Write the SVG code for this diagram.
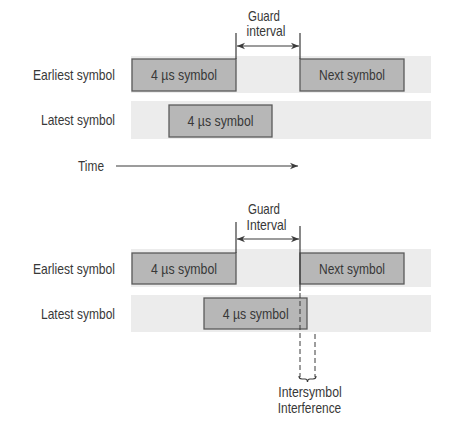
<svg xmlns="http://www.w3.org/2000/svg" width="474" height="421" viewBox="0 0 474 421">
<style>
  text { font-family: "Liberation Sans", Arial, sans-serif; font-size: 14.5px; fill: #383838; }
  .lbl { text-anchor: end; }
  .mid { text-anchor: middle; }
  .band { fill: #ececec; }
  .box { fill: #b7b7b7; stroke: #5a5a5a; stroke-width: 1.3; }
  .ln { stroke: #3a3a3a; stroke-width: 1.2; fill: none; }
  .dash { stroke: #3a3a3a; stroke-width: 1; fill: none; stroke-dasharray: 5 3; }
</style>
<defs>
  <marker id="ah" viewBox="0 0 10 10" refX="10" refY="5" markerWidth="8" markerHeight="8" markerUnits="userSpaceOnUse" orient="auto-start-reverse">
    <path d="M0,1 L10,5 L0,9 L3,5 Z" fill="#3a3a3a"/>
  </marker>
</defs>
<rect width="474" height="421" fill="#ffffff"/>

<!-- Top panel -->
<g id="top-bands">
  <rect class="band" x="131" y="56" width="300" height="37"/>
  <rect class="band" x="131" y="101" width="300" height="38"/>
</g>
<g id="top-earliest-label"><text class="lbl" x="115" y="80" textLength="82" lengthAdjust="spacingAndGlyphs">Earliest symbol</text></g>
<g id="top-latest-label"><text class="lbl" x="115" y="125" textLength="74" lengthAdjust="spacingAndGlyphs">Latest symbol</text></g>
<g id="top-sym1"><rect class="box" x="132" y="59" width="104" height="32"/><text class="mid" x="184" y="80" textLength="66" lengthAdjust="spacingAndGlyphs">4 µs symbol</text></g>
<g id="top-next"><rect class="box" x="300" y="59" width="104" height="32"/><text class="mid" x="352" y="80" textLength="66" lengthAdjust="spacingAndGlyphs">Next symbol</text></g>
<g id="top-sym2"><rect class="box" x="169" y="105" width="103" height="32"/><text class="mid" x="220.5" y="126" textLength="66" lengthAdjust="spacingAndGlyphs">4 µs symbol</text></g>
<g id="top-guard-label"><text class="mid" x="264" y="21" textLength="32" lengthAdjust="spacingAndGlyphs">Guard</text><text class="mid" x="266" y="36" textLength="39" lengthAdjust="spacingAndGlyphs">interval</text></g>
<g id="top-time-label"><text x="78" y="171" textLength="26" lengthAdjust="spacingAndGlyphs">Time</text></g>

<!-- Bottom panel -->
<g id="bot-bands">
  <rect class="band" x="131" y="249" width="300" height="38"/>
  <rect class="band" x="131" y="295" width="300" height="37"/>
</g>
<g id="bot-earliest-label"><text class="lbl" x="115" y="274" textLength="82" lengthAdjust="spacingAndGlyphs">Earliest symbol</text></g>
<g id="bot-latest-label"><text class="lbl" x="115" y="319" textLength="74" lengthAdjust="spacingAndGlyphs">Latest symbol</text></g>
<g id="bot-sym1"><rect class="box" x="132" y="253" width="104" height="31"/><text class="mid" x="184" y="274" textLength="66" lengthAdjust="spacingAndGlyphs">4 µs symbol</text></g>
<g id="bot-next"><rect class="box" x="300" y="253" width="104" height="31"/><text class="mid" x="352" y="274" textLength="66" lengthAdjust="spacingAndGlyphs">Next symbol</text></g>
<g id="bot-sym2"><rect class="box" x="204" y="298" width="103" height="31"/><text class="mid" x="255.7" y="319" textLength="66" lengthAdjust="spacingAndGlyphs">4 µs symbol</text></g>
<g id="bot-guard-label"><text class="mid" x="264" y="214" textLength="32" lengthAdjust="spacingAndGlyphs">Guard</text><text class="mid" x="266.5" y="229.5" textLength="40" lengthAdjust="spacingAndGlyphs">Interval</text></g>
<g id="bot-isi-label"><text class="mid" x="310" y="397" textLength="63.5" lengthAdjust="spacingAndGlyphs">Intersymbol</text><text class="mid" x="309.5" y="413" textLength="63.5" lengthAdjust="spacingAndGlyphs">Interference</text></g>

<g id="connectors">
  <!-- top guard -->
  <line class="ln" x1="236" y1="33" x2="236" y2="59"/>
  <line class="ln" x1="300" y1="33" x2="300" y2="59"/>
  <line class="ln" x1="237" y1="46" x2="299" y2="46" marker-start="url(#ah)" marker-end="url(#ah)"/>
  <!-- time arrow -->
  <line class="ln" x1="116" y1="166" x2="298" y2="166" marker-end="url(#ah)"/>
  <!-- bottom guard -->
  <line class="ln" x1="236" y1="222" x2="236" y2="253"/>
  <line class="ln" x1="300" y1="226" x2="300" y2="291"/>
  <line class="ln" x1="237" y1="239" x2="299" y2="239" marker-start="url(#ah)" marker-end="url(#ah)"/>
  <line class="dash" x1="300" y1="293" x2="300" y2="377"/>
  <line class="dash" x1="315" y1="334" x2="315" y2="377"/>
  <path class="ln" stroke-width="1" d="M299,376 Q299,379 302,379 L305,379 Q307.5,379 307.5,382 Q307.5,379 310,379 L313,379 Q316,379 316,376"/>
</g>
</svg>
